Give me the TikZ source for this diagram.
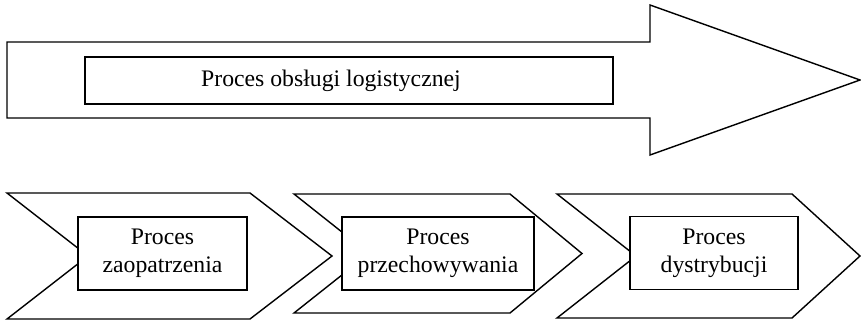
\documentclass[tikz,border=0pt]{standalone}
\usepackage{fontspec}
\setmainfont{Liberation Serif}
\usetikzlibrary{positioning}

\begin{document}
\begin{tikzpicture}[
    x=0.02cm, y=-0.02cm, % one unit = one pixel of the layout
    % Define shape style
    shape style/.style={
        draw, % Draw outline
        fill=white, % White inside
        line width=0.8pt, % Line thickness
        line join=miter % Sharp corners
      },
    % Define box style
    box style/.style={
        draw, % Draw border
        fill=white, % Cover the notch
        rectangle, % Rectangle shape
        line width=0.8pt, % Line thickness
        minimum height=1.46cm, % Minimum height
        align=center, % Center alignment
        inner sep=0pt, % No padding
        font=\fontsize{13.5}{16}\selectfont % Text size
      }
  ]
  \useasboundingbox (0,0) rectangle (861,321);

  % Big arrow on top
  \draw[shape style] (7,42) -- (650,42) -- (650,5) -- (860,80) -- (650,155)
    -- (650,118) -- (7,118) -- cycle;

  % Chevrons below
  \draw[shape style] (7,193) -- (250,193) -- (332,256) -- (250,319)
    -- (7,319) -- (88,256) -- cycle; % first chevron
  \draw[shape style] (294,194) -- (510,194) -- (582,253.5) -- (510,313)
    -- (294,313) -- (369,253.5) -- cycle; % second chevron, a bit lower
  \draw[shape style] (557,194) -- (792,194) -- (860,256) -- (792,318)
    -- (557,318) -- (636,256) -- cycle; % third chevron, tip at the edge

  % Define nodes
  \node[box style, minimum width=10.56cm, minimum height=0.94cm] (Obsluga) at (349,80.5)
    {\hspace*{-0.72cm}Proces obsługi logistycznej}; % text set a little to the left
  \node[box style, minimum width=3.38cm] (Zaopatrzenie) at (162.5,253.5) {Proces\\zaopatrzenia};
  \node[box style, minimum width=3.84cm] (Przechowywanie) at (438,253.5) {Proces\\przechowywania};
  \node[box style, minimum width=3.36cm] (Dystrybucja) at (714,253) {Proces\\dystrybucji};

\end{tikzpicture}
\end{document}
